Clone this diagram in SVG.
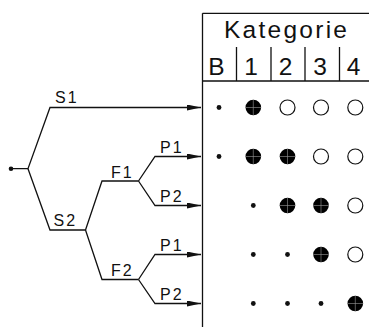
<svg xmlns="http://www.w3.org/2000/svg" width="369" height="327" viewBox="0 0 369 327">
<defs>
<style>
.ln{fill:none;stroke:#111;stroke-width:1.3}
.lbl{font-family:"Liberation Sans",Arial,sans-serif;font-size:16px;letter-spacing:2px;fill:#111}
.hd{font-family:"Liberation Sans",Arial,sans-serif;font-size:24.5px;fill:#111}
.dot{fill:#111}
.full{fill:#000}
.open{fill:#fff;stroke:#111;stroke-width:1.2}
.cross{stroke:#999;stroke-width:0.6}
</style>
<marker id="arr" markerUnits="userSpaceOnUse" markerWidth="15" markerHeight="7" refX="14" refY="3" orient="auto">
<path d="M0,0 L14,3 L0,6 z" fill="#111"/>
</marker>
<g id="full">
<circle r="7.8" class="full"/>
<path d="M-7.8,0 H7.8 M0,-7.8 V7.8" class="cross"/>
</g>
</defs>
<rect width="369" height="327" fill="#fff"/>
<g id="table">
<path class="ln" d="M202.5,13.3 H369 M202.5,13.3 V327 M202.5,81 H369 M236.5,47 V81 M271,47 V81 M305,47 V81 M339.5,47 V81"/>
<text class="hd" x="224" y="38.3" textLength="123" lengthAdjust="spacing">Kategorie</text>
<text class="hd" x="216.5" y="74.5" text-anchor="middle">B</text>
<text class="hd" x="251" y="74.5" text-anchor="middle">1</text>
<text class="hd" x="285.5" y="74.5" text-anchor="middle">2</text>
<text class="hd" x="320" y="74.5" text-anchor="middle">3</text>
<text class="hd" x="353.5" y="74.5" text-anchor="middle">4</text>
</g>
<g id="connectors">
<circle class="dot" cx="11" cy="168.7" r="2.3"/>
<path class="ln" d="M11,168.7 H28 L50,107.5 H201" marker-end="url(#arr)"/>
<path class="ln" d="M28,168.7 L50,230 H85.5"/>
<path class="ln" d="M85.5,230 L102,181 H138.5"/>
<path class="ln" d="M85.5,230 L102,279.5 H138.5"/>
<path class="ln" d="M138.5,181 L155,156.5 H201" marker-end="url(#arr)"/>
<path class="ln" d="M138.5,181 L155,205.5 H201" marker-end="url(#arr)"/>
<path class="ln" d="M138.5,279.5 L155,254.5 H201" marker-end="url(#arr)"/>
<path class="ln" d="M138.5,279.5 L155,303.5 H201" marker-end="url(#arr)"/>
</g>
<g id="labels">
<text class="lbl" x="55" y="103">S1</text>
<text class="lbl" x="53.5" y="226">S2</text>
<text class="lbl" x="111" y="177.5">F1</text>
<text class="lbl" x="111" y="276">F2</text>
<text class="lbl" x="160" y="152.5">P1</text>
<text class="lbl" x="160" y="201.5">P2</text>
<text class="lbl" x="160" y="250.5">P1</text>
<text class="lbl" x="160" y="299.5">P2</text>
</g>
<g id="row1">
<circle class="dot" cx="219" cy="107.5" r="2.4"/>
<use href="#full" x="253.3" y="107.5"/>
<circle class="open" cx="287.5" cy="107.5" r="7.5"/>
<circle class="open" cx="321" cy="107.5" r="7.5"/>
<circle class="open" cx="355.3" cy="107.5" r="7.5"/>
</g>
<g id="row2">
<circle class="dot" cx="219" cy="156.5" r="2.4"/>
<use href="#full" x="253.3" y="156.5"/>
<use href="#full" x="287.5" y="156.5"/>
<circle class="open" cx="321" cy="156.5" r="7.5"/>
<circle class="open" cx="355.3" cy="156.5" r="7.5"/>
</g>
<g id="row3">
<circle class="dot" cx="253.3" cy="205.5" r="2.4"/>
<use href="#full" x="287.5" y="205.5"/>
<use href="#full" x="321" y="205.5"/>
<circle class="open" cx="355.3" cy="205.5" r="7.5"/>
</g>
<g id="row4">
<circle class="dot" cx="253.3" cy="254.5" r="2.4"/>
<circle class="dot" cx="287.5" cy="254.5" r="2.4"/>
<use href="#full" x="321" y="254.5"/>
<circle class="open" cx="355.3" cy="254.5" r="7.5"/>
</g>
<g id="row5">
<circle class="dot" cx="253.3" cy="303.5" r="2.4"/>
<circle class="dot" cx="287.5" cy="303.5" r="2.4"/>
<circle class="dot" cx="321" cy="303.5" r="2.4"/>
<use href="#full" x="355.3" y="303.5"/>
</g>
</svg>
